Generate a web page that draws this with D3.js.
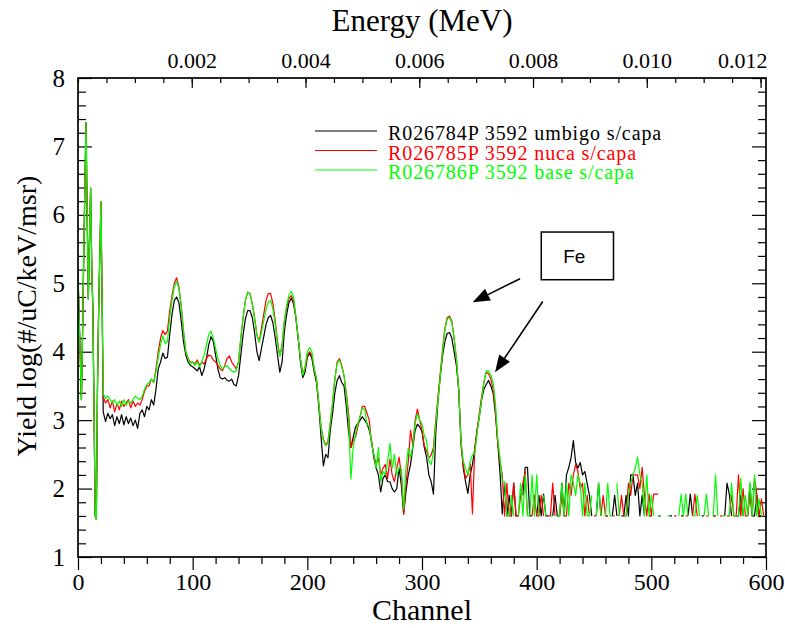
<!DOCTYPE html>
<html><head><meta charset="utf-8">
<script src="https://cdn.jsdelivr.net/npm/d3@7"></script>
<style>
html,body{margin:0;padding:0;background:#fff;}
svg{display:block;}
</style></head><body>
<svg id="chart" width="785" height="628"></svg>
<script>
// ---------------- DATA ----------------
const seriesNames = ["R026784P 3592 umbigo s/capa", "R026785P 3592 nuca s/capa", "R026786P 3592 base s/capa"];
const seriesColors = ["#000000", "#ff0000", "#00ff00"];

const channelTicks = [0, 100, 200, 300, 400, 500, 600];
const yieldTicks = [1, 2, 3, 4, 5, 6, 7, 8];
const energyTicks = [0.002, 0.004, 0.006, 0.008, 0.010, 0.012];
const energyTickLabels = ["0.002", "0.004", "0.006", "0.008", "0.010", "0.012"];
const mevPerChannel = 2.016e-5;

// channels 0..21 (every channel): low-energy spikes, common to the three runs
const spikeChannels = d3.range(0, 22);
const spikeVals = [5.15, 4.5, 3.9, 3.3, 4.3, 5.4, 6.4, 7.35, 6.0, 4.77, 5.6, 6.39, 5.25, 4.6, 3.1, 1.6, 1.55, 3.5, 4.6, 5.4, 6.19, 4.8];

// channels 22..370, every 2 channels
const mainChannels = d3.range(22, 371, 2);
const umbigoMain = [
 3.12,2.98,3.1,3.02,3.08,2.92,3.05,2.95,3.08,2.93,
 3.05,2.95,3.03,2.92,3.0,2.88,3.1,3.15,3.05,3.2,
 3.15,3.3,3.22,3.45,3.75,3.85,3.98,3.9,3.92,4.25,
 4.55,4.75,4.8,4.72,4.45,4.15,3.95,3.85,3.8,3.78,
 3.75,3.72,3.78,3.65,3.75,3.9,4.1,4.22,4.15,3.95,
 3.75,3.62,3.6,3.62,3.58,3.57,3.6,3.52,3.5,3.65,
 3.95,4.25,4.48,4.6,4.6,4.5,4.28,4.0,3.87,4.05,
 4.22,4.4,4.5,4.53,4.42,4.2,3.95,3.7,3.85,4.3,
 4.55,4.72,4.78,4.7,4.5,4.2,3.85,3.62,3.7,3.92,
 3.98,3.9,3.7,3.55,3.2,2.75,2.33,2.5,2.45,2.85,
 3.1,3.4,3.58,3.65,3.55,3.5,3.2,2.82,2.6,2.75,
 2.9,2.95,3.0,3.05,3.0,2.95,2.85,2.7,2.45,2.3,
 2.2,1.95,2.15,2.2,2.1,2.1,2.0,1.95,2.0,2.3,
 2.05,1.63,1.95,2.2,2.35,2.6,2.85,2.94,2.9,2.83,
 2.6,2.46,2.2,2.1,1.92,2.8,3.3,3.65,3.95,4.15,
 4.27,4.28,4.2,4.0,3.8,3.45,2.7,2.3,2.1,1.93,
 2.2,2.35,2.58,2.85,3.05,3.3,3.45,3.52,3.58,3.5,
 3.4,3.1,2.68,2.24,1.63];
const nucaMain = [
 3.34,3.25,3.3,3.18,3.28,3.12,3.25,3.15,3.28,3.2,
 3.25,3.3,3.18,3.28,3.2,3.25,3.22,3.3,3.42,3.5,
 3.5,3.6,3.55,3.75,4.0,4.2,4.31,4.25,4.3,4.6,
 4.82,5.0,5.08,4.95,4.68,4.3,4.0,3.9,3.85,3.85,
 3.82,3.88,3.8,3.85,3.82,3.9,3.95,3.94,3.88,3.85,
 3.8,3.75,3.72,3.8,3.9,3.94,3.85,3.8,3.75,3.85,
 4.2,4.5,4.75,4.87,4.85,4.7,4.5,4.25,4.14,4.35,
 4.55,4.75,4.85,4.85,4.7,4.45,4.15,3.94,4.1,4.45,
 4.65,4.78,4.82,4.75,4.5,4.2,3.9,3.68,3.75,3.95,
 4.0,3.95,3.75,3.6,3.25,2.9,2.72,2.63,2.7,2.95,
 3.25,3.6,3.85,3.9,3.8,3.65,3.4,3.1,2.6,2.7,
 2.75,2.9,3.05,3.2,3.2,3.1,3.0,2.66,2.5,2.35,
 2.45,2.2,2.3,2.35,2.15,2.43,2.2,2.1,2.3,2.46,
 2.2,1.63,2.06,2.39,2.85,2.63,3.0,3.16,3.0,2.85,
 2.63,2.55,2.45,2.49,2.6,3.0,3.35,3.7,4.05,4.35,
 4.5,4.52,4.45,4.2,3.9,3.45,2.63,2.35,2.15,2.2,
 2.36,1.63,2.58,2.85,3.1,3.35,3.55,3.7,3.68,3.6,
 3.45,3.16,2.68,2.4,2.2];
const baseMain = [
 3.38,3.32,3.35,3.3,3.25,3.3,3.22,3.28,3.2,3.3,
 3.22,3.28,3.25,3.3,3.35,3.32,3.3,3.35,3.45,3.52,
 3.55,3.6,3.55,3.7,3.92,4.1,4.23,4.12,4.15,4.5,
 4.75,4.95,5.03,4.93,4.65,4.3,4.0,3.9,3.82,3.85,
 3.8,3.85,3.78,3.85,3.95,4.1,4.25,4.3,4.2,4.05,
 3.9,3.8,3.75,3.78,3.8,3.75,3.72,3.7,3.72,3.85,
 4.2,4.5,4.75,4.87,4.85,4.7,4.48,4.25,4.14,4.28,
 4.45,4.62,4.73,4.75,4.62,4.4,4.1,3.94,4.1,4.45,
 4.68,4.83,4.88,4.8,4.52,4.2,3.9,3.66,3.78,4.0,
 4.06,4.0,3.75,3.6,3.25,2.88,2.7,2.63,2.66,2.95,
 3.25,3.6,3.82,3.88,3.78,3.65,3.35,3.0,2.14,2.6,
 2.8,2.95,3.05,3.18,3.15,2.95,2.9,2.66,2.5,2.3,
 2.6,2.1,2.25,2.2,2.4,2.66,2.3,2.5,2.2,2.3,
 2.3,1.7,2.3,2.59,2.45,2.63,2.95,3.09,3.0,2.95,
 2.77,2.7,2.4,2.35,2.53,2.95,3.3,3.65,4.0,4.32,
 4.48,4.5,4.42,4.2,3.9,3.45,2.7,2.4,2.3,2.2,
 2.4,2.5,2.5,2.8,3.05,3.3,3.55,3.72,3.72,3.66,
 3.55,3.26,2.75,2.45,2.1];

// channels 372..598, every 2 channels (null = no counts)
const noiseChannels = d3.range(372, 599, 2);
const umbigoNoise = [
 2.08,1.6,1.9,1.6,2.08,1.6,1.6,null,1.9,2.31,
 2.31,1.6,1.6,null,1.6,1.9,1.6,1.92,1.6,1.6,
 null,1.6,1.9,1.6,1.6,2.08,1.6,2.2,2.31,2.45,
 2.7,2.38,2.3,2.38,2.2,2.25,2.08,1.9,1.6,null,
 1.6,2.08,1.6,null,1.6,1.6,null,1.6,1.9,1.6,
 null,1.6,1.6,1.9,1.6,2.2,2.2,1.9,2.08,1.6,
 1.9,1.6,null,1.6,1.6,null,null,1.6,1.6,null,
 1.6,null,1.6,1.6,null,1.6,null,1.6,1.6,null,
 1.6,1.92,1.6,null,1.6,null,1.6,1.6,null,1.6,
 null,1.6,1.6,null,1.6,null,1.6,2.08,1.92,1.6,
 null,1.6,1.6,1.9,1.6,null,1.6,2.05,1.6,1.6,
 1.9,1.6,1.6,null];
const nucaNoise = [
 1.6,2.08,1.6,1.6,2.08,1.6,1.6,1.9,2.08,2.25,
 1.6,null,1.6,1.9,1.6,1.6,1.9,1.6,null,1.6,
 1.6,2.08,1.6,null,1.6,1.9,1.6,1.6,2.08,1.9,
 2.2,2.35,2.25,2.0,2.08,1.6,1.9,1.6,null,1.6,
 1.6,null,1.6,1.9,1.6,1.6,null,1.6,1.6,null,
 1.6,1.9,1.6,1.6,2.08,1.9,2.2,2.2,2.2,2.0,
 2.31,1.9,1.6,1.92,1.6,1.92,1.92,1.92,null,1.6,
 null,null,1.6,null,1.6,1.6,null,1.6,null,1.6,
 1.6,null,1.6,1.92,1.6,null,1.6,null,1.6,1.6,
 null,1.6,1.6,null,1.6,1.6,null,1.6,1.6,1.9,
 1.6,1.6,2.2,1.6,2.0,1.6,1.6,1.9,1.6,2.15,
 1.92,1.6,1.85,1.6];
const baseNoise = [
 2.1,1.6,1.6,1.9,1.6,null,1.6,2.08,1.6,2.2,
 1.6,1.6,2.2,1.6,2.2,1.6,null,1.9,1.6,null,
 1.6,1.6,null,1.6,1.6,2.08,1.6,2.08,1.6,2.2,
 2.08,1.9,2.2,2.08,1.6,2.08,1.6,1.6,1.9,null,
 1.6,2.08,1.6,null,1.6,2.08,1.6,1.6,null,2.08,
 1.6,null,1.6,1.6,1.9,2.08,2.2,2.3,2.46,2.2,
 2.08,1.6,2.2,1.6,1.9,1.6,null,1.6,1.6,null,
 null,1.6,1.6,null,1.6,null,1.6,1.92,1.6,1.92,
 1.6,null,1.6,1.6,1.9,1.6,null,1.6,1.92,1.6,
 null,1.6,2.2,1.6,null,1.6,1.6,null,1.6,2.08,
 1.6,1.6,1.6,2.15,1.6,1.9,1.6,2.1,1.6,2.2,
 1.6,1.85,1.6,1.6];

// Annotation (data units: channel, yield)
const feLabel = "Fe";
const feBox = {c0: 404, c1: 467, v0: 5.052, v1: 5.749};
const feArrows = [
  {c0: 385.5, v0: 5.067, c1: 344.2, v1: 4.724},
  {c0: 405.3, v0: 4.734, c1: 363.7, v1: 3.699}
];

// ---------------- CHART ----------------
const W = 785, H = 628;
const M = {top: 78, right: 19, bottom: 71, left: 78};
const serif = "'Liberation Serif','Times New Roman',Times,serif";

const svg = d3.select("#chart");
const x = d3.scaleLinear().domain([0, 600]).range([M.left, W - M.right]);
const y = d3.scaleLinear().domain([1, 8]).range([H - M.bottom, M.top]);
const xe = d3.scaleLinear().domain([0, 600 * mevPerChannel]).range([M.left, W - M.right]);

function build(main, noise) {
  const pts = [];
  spikeChannels.forEach((c, i) => pts.push({c, v: spikeVals[i]}));
  mainChannels.forEach((c, i) => { if (i < main.length) pts.push({c, v: main[i]}); });
  noiseChannels.forEach((c, i) => { if (i < noise.length) pts.push({c, v: noise[i]}); });
  return pts;
}
const series = [build(umbigoMain, umbigoNoise), build(nucaMain, nucaNoise), build(baseMain, baseNoise)];

function styleAxis(g, size) {
  g.select(".domain").remove();
  g.selectAll(".tick line").attr("stroke", "#000").attr("stroke-width", 1.2);
  g.selectAll("text").attr("font-family", serif).attr("font-size", size).attr("fill", "#000");
}

// bottom axis (outward ticks)
const yBottom = H - M.bottom;
svg.append("g").attr("transform", `translate(0,${yBottom})`)
  .call(d3.axisBottom(x).tickValues(d3.range(0, 601, 20).filter(v => v % 100)).tickSize(7).tickFormat(""))
  .call(g => styleAxis(g, 24));
svg.append("g").attr("transform", `translate(0,${yBottom})`)
  .call(d3.axisBottom(x).tickValues(channelTicks).tickSize(13).tickPadding(3))
  .call(g => styleAxis(g, 24));

// left axis (inward ticks)
const minorY = d3.range(10, 81, 2).map(v => v / 10).filter(v => Math.abs(v - Math.round(v)) > 1e-6);
svg.append("g").attr("transform", `translate(${M.left},0)`)
  .call(d3.axisLeft(y).tickValues(minorY).tickSizeInner(-8).tickSizeOuter(0).tickFormat(""))
  .call(g => styleAxis(g, 25));
svg.append("g").attr("transform", `translate(${M.left},0)`)
  .call(d3.axisLeft(y).tickValues(yieldTicks).tickSizeInner(-14).tickSizeOuter(0).tickPadding(13).tickFormat(d3.format("d")))
  .call(g => styleAxis(g, 25));

// right axis (inward ticks)
svg.append("g").attr("transform", `translate(${W - M.right},0)`)
  .call(d3.axisRight(y).tickValues(minorY).tickSizeInner(-8).tickSizeOuter(0).tickFormat(""))
  .call(g => styleAxis(g, 25));
svg.append("g").attr("transform", `translate(${W - M.right},0)`)
  .call(d3.axisRight(y).tickValues(yieldTicks).tickSizeInner(-14).tickSizeOuter(0).tickFormat(""))
  .call(g => styleAxis(g, 25));

// top energy axis (inward ticks)
const minorE = d3.range(0, 25).map(i => i * 0.0005).filter(v => xe(v) <= W - M.right + 0.5);
svg.append("g").attr("transform", `translate(0,${M.top})`)
  .call(d3.axisTop(xe).tickValues(minorE).tickSizeInner(-5).tickSizeOuter(0).tickFormat(""))
  .call(g => styleAxis(g, 22));
const topAxis = svg.append("g").attr("transform", `translate(0,${M.top})`)
  .call(d3.axisTop(xe).tickValues(energyTicks).tickSizeInner(-10).tickSizeOuter(0).tickPadding(10)
        .tickFormat((d, i) => energyTickLabels[i]))
  .call(g => styleAxis(g, 22));
// keep last label inside the frame
topAxis.selectAll(".tick").each(function(d) {
  const t = d3.select(this).select("text");
  const bb = t.node().getBBox();
  const px = xe(d);
  const overflow = px + bb.x + bb.width - (W - M.right + 1);
  if (overflow > 0) t.attr("x", -overflow);
});

// data lines
const clipId = "plotclip";
svg.append("clipPath").attr("id", clipId).append("rect")
  .attr("x", M.left).attr("y", M.top).attr("width", W - M.left - M.right).attr("height", H - M.top - M.bottom);
const line = d3.line().defined(d => d.v !== null && d.v !== undefined).x(d => x(d.c)).y(d => y(d.v));
const gLines = svg.append("g").attr("clip-path", `url(#${clipId})`);
series.forEach((s, i) => {
  gLines.append("path").datum(s).attr("d", line)
    .attr("fill", "none").attr("stroke", seriesColors[i]).attr("stroke-width", 1.2)
    .attr("stroke-linejoin", "round");
});

// frame
svg.append("rect").attr("x", M.left).attr("y", M.top)
  .attr("width", W - M.left - M.right).attr("height", H - M.top - M.bottom)
  .attr("fill", "none").attr("stroke", "#000").attr("stroke-width", 1.7);

// legend
const legend = svg.append("g");
seriesNames.forEach((name, i) => {
  const yy = 131 + i * 19.5;
  legend.append("line").attr("x1", 315).attr("x2", 377).attr("y1", yy).attr("y2", yy)
    .attr("stroke", seriesColors[i]).attr("stroke-width", 1.2);
  legend.append("text").attr("x", 388).attr("y", yy + 9).text(name)
    .attr("font-family", serif).attr("font-size", 20).attr("letter-spacing", 0.9)
    .attr("fill", seriesColors[i]);
});

// Fe annotation
svg.append("rect").attr("x", x(feBox.c0)).attr("y", y(feBox.v1))
  .attr("width", x(feBox.c1) - x(feBox.c0)).attr("height", y(feBox.v0) - y(feBox.v1))
  .attr("fill", "#fff").attr("stroke", "#000").attr("stroke-width", 1.5);
svg.append("text").attr("x", (x(feBox.c0) + x(feBox.c1)) / 2 - 3).attr("y", (y(feBox.v0) + y(feBox.v1)) / 2)
  .attr("dy", "0.36em").attr("text-anchor", "middle")
  .attr("font-family", "'Liberation Sans',Arial,sans-serif").attr("font-size", 19).text(feLabel);
feArrows.forEach(a => {
  const x0 = x(a.c0), y0 = y(a.v0), x1 = x(a.c1), y1 = y(a.v1);
  const dx = x1 - x0, dy = y1 - y0, len = Math.hypot(dx, dy);
  const ux = dx / len, uy = dy / len, L = 17, Wd = 6.5;
  const bx = x1 - ux * L, by = y1 - uy * L;
  svg.append("line").attr("x1", x0).attr("y1", y0).attr("x2", bx).attr("y2", by)
    .attr("stroke", "#000").attr("stroke-width", 1.6);
  svg.append("path").attr("d", `M${x1},${y1}L${bx - uy * Wd},${by + ux * Wd}L${bx + uy * Wd},${by - ux * Wd}Z`)
    .attr("fill", "#000");
});

// axis titles
svg.append("text").attr("x", (M.left + W - M.right) / 2).attr("y", 31).attr("text-anchor", "middle")
  .attr("font-family", serif).attr("font-size", 31).text("Energy (MeV)");
svg.append("text").attr("x", (M.left + W - M.right) / 2).attr("y", 620).attr("text-anchor", "middle")
  .attr("font-family", serif).attr("font-size", 30).text("Channel");
svg.append("text").attr("transform", `translate(36,316) rotate(-90)`).attr("text-anchor", "middle")
  .attr("font-family", serif).attr("font-size", 28).text("Yield log(#/uC/keV/msr)");
</script>
</body></html>
